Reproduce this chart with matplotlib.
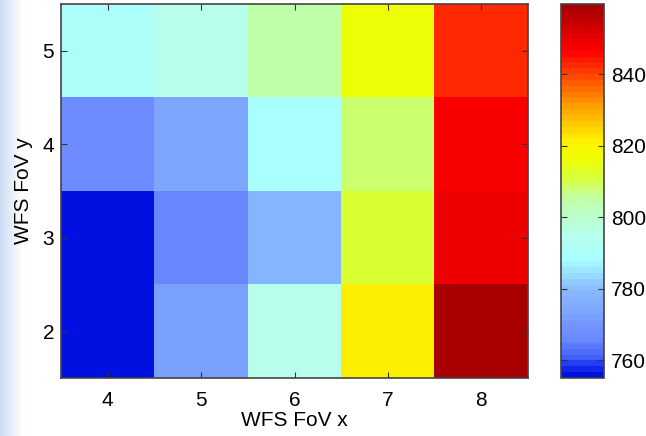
import numpy as np
import matplotlib
matplotlib.use("Agg")
import matplotlib.pyplot as plt
from matplotlib.colors import LinearSegmentedColormap

plt.rcParams['font.family'] = ['Liberation Sans', 'DejaVu Sans']

# --- DATA ---
fov_x = [4, 5, 6, 7, 8]
fov_y = [2, 3, 4, 5]
# rows follow fov_y (2 -> 5), columns follow fov_x (4 -> 8)
row_y2 = [755.5, 772, 795, 822, 858]
row_y3 = [755.5, 765, 779, 811, 849]
row_y4 = [768, 774, 788, 808, 847]
row_y5 = [790, 795, 805, 817, 842]
cbar_ticks = [760, 780, 800, 820, 840]
vmin, vmax = 755, 859.6

# --- COLORMAP (washed jet-like, as in the picture) ---
anchors = [
    (755, '#0010e0'), (758, '#2038f0'), (760, '#4060f8'), (765, '#6888ff'),
    (768, '#7090ff'), (774, '#80aaff'), (779, '#88b8ff'), (788, '#a8ffff'),
    (795, '#b8ffec'), (805, '#c0ffa8'), (808, '#ccff70'), (811, '#d8ff38'),
    (817, '#f0ff00'), (822, '#ffee00'), (832, '#ff9900'), (842, '#ff3300'),
    (847, '#ff0000'), (859.6, '#a80000'),
]
cmap = LinearSegmentedColormap.from_list(
    'washed_jet', [((v - vmin) / (vmax - vmin), c) for v, c in anchors], N=64)

Z = np.array([row_y2, row_y3, row_y4, row_y5])

fig = plt.figure(figsize=(6.46, 4.36), dpi=100)

# faint blue strip on the left edge of the original picture
bg = fig.add_axes([0, 0, 0.035, 1])
grad = np.linspace(1, 0, 50)[None, :]
bg.imshow(grad, cmap=LinearSegmentedColormap.from_list('bgb', ['white', '#cddcf3']),
          aspect='auto', vmin=0, vmax=1, extent=[0, 1, 0, 1])
bg.set_axis_off()

ax = fig.add_axes([61 / 646, 58 / 436, 467 / 646, 374 / 436])
im = ax.imshow(Z, cmap=cmap, vmin=vmin, vmax=vmax, origin='lower', aspect='auto',
               extent=[fov_x[0] - 0.5, fov_x[-1] + 0.5, fov_y[0] - 0.5, fov_y[-1] + 0.5],
               interpolation='nearest')
ax.set_xticks(fov_x)
ax.set_yticks(fov_y)
ax.tick_params(direction='in', top=True, right=True, labelsize=15, length=4,
               color='#333333')
ax.tick_params(axis='x', pad=9)
ax.tick_params(axis='y', pad=5)
ax.set_xlabel('WFS FoV x', fontsize=15, labelpad=1)
ax.set_ylabel('WFS FoV y', fontsize=15, labelpad=7)
for s in ax.spines.values():
    s.set_color('#444444')
    s.set_linewidth(1.2)

cax = fig.add_axes([561 / 646, 58 / 436, 43 / 646, 374 / 436])
cb = fig.colorbar(im, cax=cax, ticks=cbar_ticks)
cb.ax.tick_params(direction='in', left=True, right=True, labelsize=15, length=4,
                  color='#333333', pad=5)
cb.outline.set_edgecolor('#444444')
cb.outline.set_linewidth(1.2)

plt.savefig('out.png', dpi=100)
